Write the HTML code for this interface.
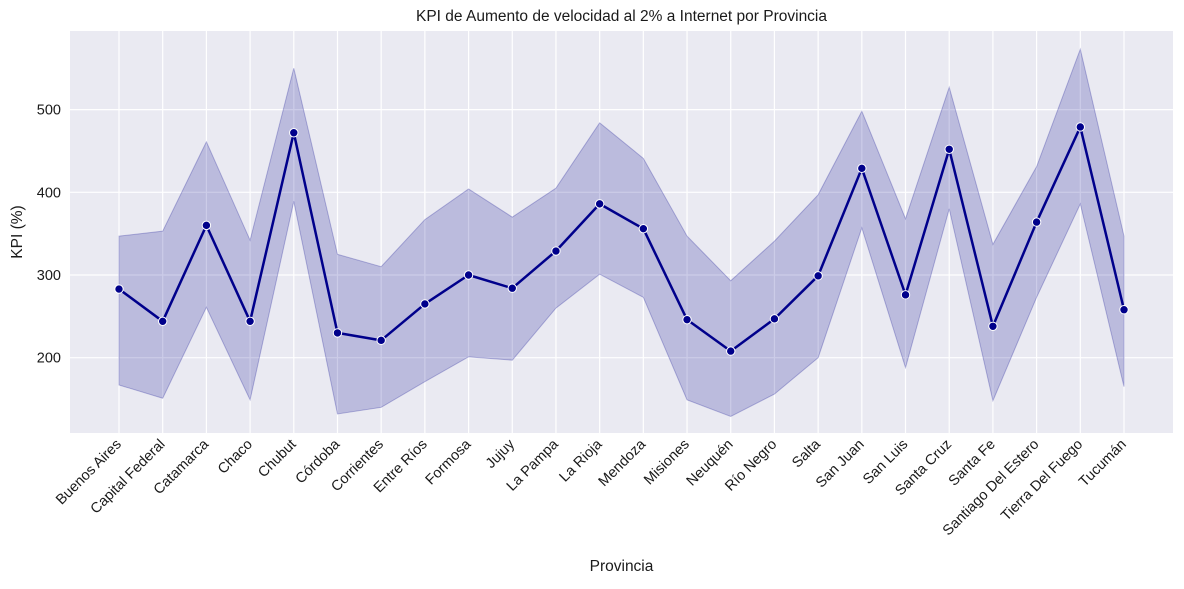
<!DOCTYPE html>
<html><head><meta charset="utf-8"><style>
body{margin:0;background:#fff;font-family:"Liberation Sans","DejaVu Sans",sans-serif}
</style></head><body>
<svg id="chart" width="1184" height="584" xmlns="http://www.w3.org/2000/svg" font-family="Liberation Sans, DejaVu Sans, sans-serif"></svg>
<script>
const categories=["Buenos Aires","Capital Federal","Catamarca","Chaco","Chubut","Córdoba","Corrientes","Entre Ríos","Formosa","Jujuy","La Pampa","La Rioja","Mendoza","Misiones","Neuquén","Río Negro","Salta","San Juan","San Luis","Santa Cruz","Santa Fe","Santiago Del Estero","Tierra Del Fuego","Tucumán"];
const kpiValues=[283,244,360,244,472,230,221,265,300,284,329,386,356,246,208,247,299,429,276,452,238,364,479,258];
const upperBand=[347,353,461,342,550,325,310,367,404,370,405,484,441,347,293,341,397,498,368,527,337,431,573,347];
const lowerBand=[167,151,261,149,389,132,140,171,201,197,260,301,273,149,129,156,200,357,188,380,148,273,386,165];
const yTicks=[200,300,400,500];

const svg=document.getElementById('chart');
const NS="http://www.w3.org/2000/svg";
const L=70,R=1173,T=31,B=433;
const x=i=>119+i*(1124-119)/(categories.length-1);
const y=v=>275-(v-300)*0.827;
function mk(tag,attrs,parent){const e=document.createElementNS(NS,tag);for(const k in attrs)e.setAttribute(k,attrs[k]);(parent||svg).appendChild(e);return e;}

const bg=mk('rect',{x:L,y:T,width:R-L,height:B-T,fill:'#eaeaf2'});



categories.forEach((c,i)=>{
  const g=mk('line',{x1:x(i),x2:x(i),y1:T,y2:B,stroke:'#fff','stroke-width':1.2});
  
  
  const t=mk('text',{x:0,y:0,'font-size':14.5,fill:'#1a1a1a','text-anchor':'end',transform:`translate(${x(i)+3},${B+12}) rotate(-45)`});
  t.textContent=c;
  
  
});
yTicks.forEach(v=>{
  const g=mk('line',{x1:L,x2:R,y1:y(v),y2:y(v),stroke:'#fff','stroke-width':1.2});
  
  
  const t=mk('text',{x:L-9,y:y(v)+5,'font-size':14.5,fill:'#1a1a1a','text-anchor':'end'});
  t.textContent=v;
  
  
});

let d=upperBand.map((v,i)=>(i?'L':'M')+x(i)+','+y(v)).join(' ');
for(let i=lowerBand.length-1;i>=0;i--)d+=' L'+x(i)+','+y(lowerBand[i]);
const band=mk('path',{d:d+' Z',fill:'rgba(0,0,139,0.2)',stroke:'rgba(0,0,139,0.25)','stroke-width':1});



const line=mk('polyline',{points:kpiValues.map((v,i)=>x(i)+','+y(v)).join(' '),fill:'none',stroke:'#00008b','stroke-width':2.5,'stroke-linejoin':'round'});


kpiValues.forEach((v,i)=>{
  const p=mk('circle',{cx:x(i),cy:y(v),r:4.2,fill:'#00008b',stroke:'#fff','stroke-width':1});
  
  
});

const title=mk('text',{x:(L+R)/2,y:21,'font-size':15.5,fill:'#1a1a1a','text-anchor':'middle'});
title.textContent='KPI de Aumento de velocidad al 2% a Internet por Provincia';


const xt=mk('text',{x:(L+R)/2,y:571,'font-size':15.5,fill:'#1a1a1a','text-anchor':'middle'});
xt.textContent='Provincia';


const yt=mk('text',{x:0,y:0,'font-size':15.5,fill:'#1a1a1a','text-anchor':'middle',transform:`translate(22,${(T+B)/2}) rotate(-90)`});
yt.textContent='KPI (%)';


</script>
</body></html>
